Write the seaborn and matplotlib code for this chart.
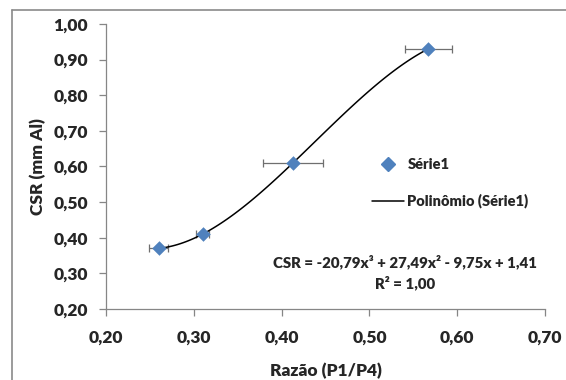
import matplotlib
matplotlib.use("Agg")
import matplotlib.pyplot as plt
from matplotlib.lines import Line2D
import numpy as np
import pandas as pd
import seaborn as sns

# Data
razao = [0.26, 0.31, 0.413, 0.567]
csr = [0.37, 0.41, 0.61, 0.93]
razao_err = [0.011, 0.007, 0.034, 0.027]

x_ticks = [0.20, 0.30, 0.40, 0.50, 0.60, 0.70]
y_ticks = [0.20, 0.30, 0.40, 0.50, 0.60, 0.70, 0.80, 0.90, 1.00]

eq_text = "CSR = -20,79x³ + 27,49x² - 9,75x + 1,41"
r2_text = "R² = 1,00"

BLUE = "#4F81BD"
GRAY = "#868686"
WEIGHT = "heavy"

sns.set_style("white")
plt.rcParams["font.family"] = ["Lato", "DejaVu Sans"]

df = pd.DataFrame({"razao": razao, "csr": csr})

fig = plt.figure(figsize=(5.66, 3.80), dpi=100)
ax = fig.add_axes([0.1873, 0.187, 0.7757, 0.750])

# x error bars
ax.errorbar(df.razao, df.csr, xerr=razao_err, fmt="none", ecolor="#6f6f6f",
            elinewidth=0.9, capsize=3, capthick=0.9, zorder=2)

# cubic trendline
sns.regplot(data=df, x="razao", y="csr", order=3, ci=None, scatter=False,
            truncate=True, line_kws={"color": "black", "lw": 1.1}, ax=ax)

sns.scatterplot(data=df, x="razao", y="csr", marker="D", s=55, color=BLUE,
                edgecolor=BLUE, linewidth=0, zorder=3, ax=ax)

ax.set_xlim(0.20, 0.70)
ax.set_ylim(0.20, 1.00)
ax.set_xticks(x_ticks)
ax.set_yticks(y_ticks)
ax.set_xticklabels([f"{t:.2f}".replace(".", ",") for t in x_ticks],
                   fontsize=12.5, fontweight=WEIGHT)
ax.set_yticklabels([f"{t:.2f}".replace(".", ",") for t in y_ticks],
                   fontsize=12.5, fontweight=WEIGHT)
ax.tick_params(axis="x", direction="out", length=5, width=0.9,
               color=GRAY, pad=10, bottom=True)
ax.tick_params(axis="y", direction="out", length=5, width=0.9,
               color=GRAY, pad=8, left=True)

ax.set_xlabel("Razão (P1/P4)", fontsize=12.5, fontweight=WEIGHT, labelpad=12)
ax.set_ylabel("CSR (mm Al)", fontsize=12.5, fontweight=WEIGHT, labelpad=5)

sns.despine(ax=ax)
for side in ["left", "bottom"]:
    ax.spines[side].set_color(GRAY)
    ax.spines[side].set_linewidth(0.9)

handles = [
    Line2D([], [], marker="D", color=BLUE, linestyle="none", markersize=7),
    Line2D([], [], color="black", lw=1.1),
]
ax.legend(handles, ["Série1", "Polinômio (Série1)"], loc="upper left",
          bbox_to_anchor=(0.575, 0.575), frameon=False, handlelength=2.2,
          handletextpad=0.25, labelspacing=1.55,
          prop={"size": 10.5, "weight": WEIGHT})

fig.text(405 / 566, 1 - 262 / 380, eq_text, ha="center", va="center",
         fontsize=10.8, fontweight=WEIGHT)
fig.text(405 / 566, 1 - 283 / 380, r2_text, ha="center", va="center",
         fontsize=10.8, fontweight=WEIGHT)

# chart area border (top and left edges visible)
fig.add_artist(Line2D([11.5 / 566, 1.0], [1 - 9.5 / 380, 1 - 9.5 / 380],
                      color="#8a8a8a", lw=1.2, transform=fig.transFigure))
fig.add_artist(Line2D([11.5 / 566, 11.5 / 566], [0.0, 1 - 9.5 / 380],
                      color="#8a8a8a", lw=1.2, transform=fig.transFigure))

fig.savefig("out.png", dpi=100)
